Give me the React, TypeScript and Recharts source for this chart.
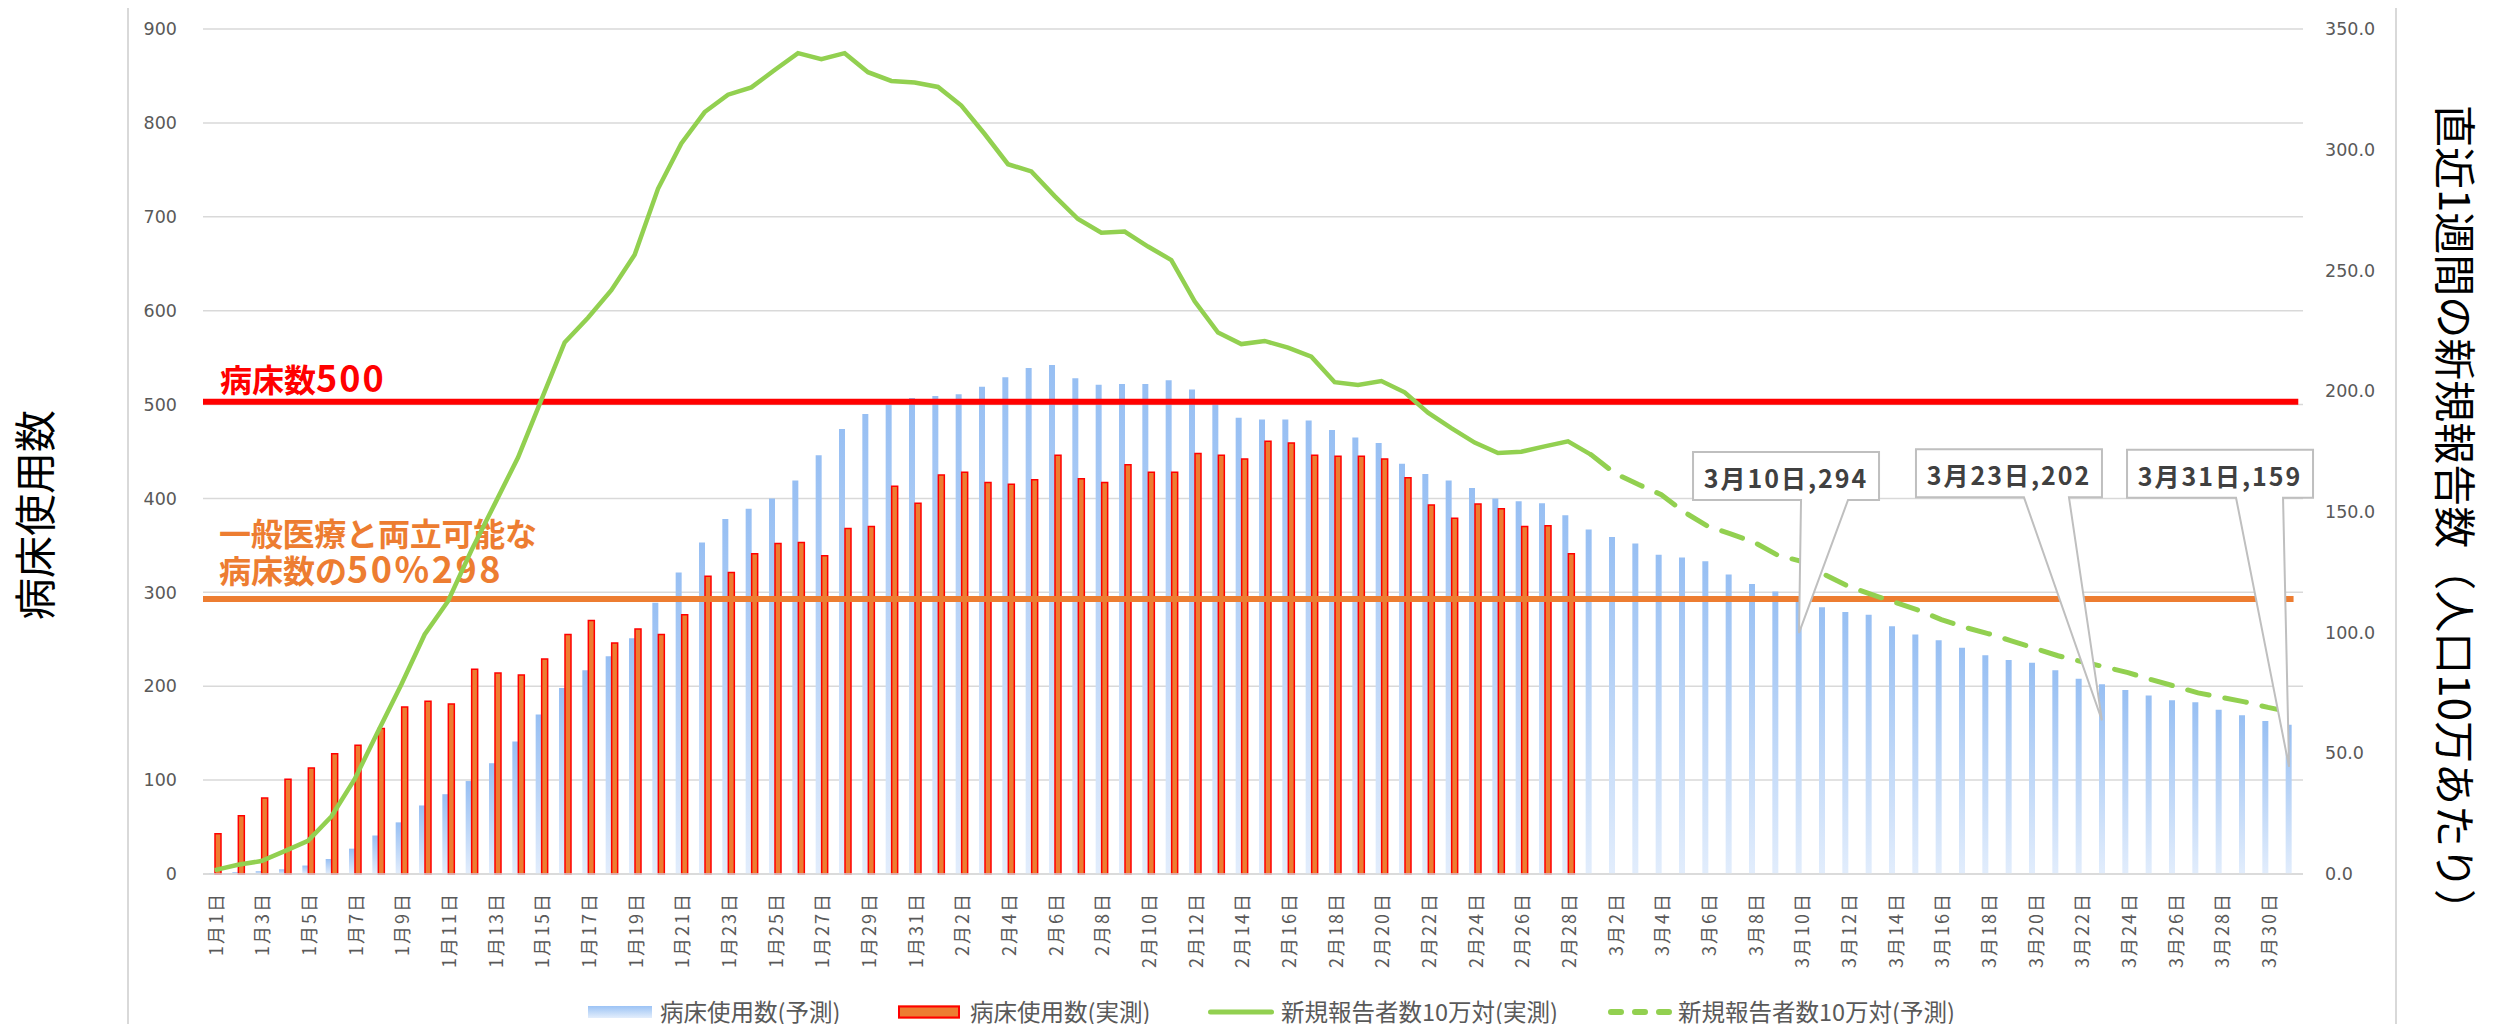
import React from "react";
import { Bar, CartesianGrid, ComposedChart, Line, ReferenceDot, ReferenceLine, XAxis, YAxis } from "recharts";

// 1/1 - 3/31, one category per day
const monthLengths = [31, 28, 31];
const dates: string[] = monthLengths.flatMap((n, m) => Array.from({ length: n }, (_, d) => `${m + 1}月${d + 1}日`));

// 病床使用数（予測） Jan 1 - Mar 31
const bedsForecast = [
  1, 2, 3, 5, 9, 16, 27, 41, 55, 73, 85, 99, 118, 141, 170, 198, 217, 232, 251, 289, 321, 353, 378, 389, 400, 419, 446, 474,
  490, 500, 507,
  509, 511, 519, 529, 539, 542, 528, 521, 522, 522, 526, 516, 500, 486, 484, 484, 483, 473, 465, 459, 437, 426, 419, 411, 400,
  397, 395, 382,
  367, 359, 352, 340, 337, 333, 319, 309, 301, 294, 284, 279, 276, 264, 255, 249, 241, 233, 228, 225, 217, 208, 202, 196, 190,
  185, 183, 175, 169, 163, 159,
];

// 病床使用数（実測） Jan 1 - Feb 28
const bedsActual = [
  43, 62, 81, 101, 113, 128, 137, 155, 178, 184, 181, 218, 214, 212, 229, 255, 270, 246, 261, 255, 276, 317, 321, 341, 352, 353,
  339, 368, 370, 413, 395,
  425, 428, 417, 415, 420, 446, 421, 417, 436, 428, 428, 448, 446, 442, 461, 459, 446, 445, 445, 442, 422, 393, 379, 394, 389,
  370, 371, 341,
];

// 新規報告者数10万対（実測） Jan 1 - Mar 1
const casesActual = [
  1.6, 3.8, 5.4, 9.5, 13.7, 23.8, 39.3, 59, 78.5, 99.2, 113, 134, 153.2, 172.5, 196.4, 220.2, 230.4, 241.8, 256.5, 283.8, 302.6,
  315.6, 322.8, 325.8, 333, 340, 337.5, 340, 332.1, 328.5, 327.8,
  326, 318.3, 306.5, 294, 291, 280.8, 271.3, 265.6, 266.1, 259.9, 254.3, 237.2, 224.3, 219.5, 220.8, 218, 214.3, 203.7, 202.6,
  204.2, 199.5, 191.1, 184.7, 178.7, 174.4, 174.9, 177.1, 179.2,
  173.6,
];

// 新規報告者数10万対（予測） Mar 1 - Mar 31
const casesForecast = [
  173.6, 166, 161.4, 157.1, 149.8, 144, 140.8, 137.3, 132, 129.5, 124, 119.2, 115.8, 112.6, 109.3, 105.4, 102.2, 99.6, 96.6, 93.5,
  90.4, 88, 85.8, 83.4, 80.5, 77.8, 75, 73.2, 71.3, 69, 67,
];

const forecastStart = dates.indexOf("3月1日");

const bedLimit = 503;
const bedLimitLabel = ["病床数", "500"];
const bedHalf = 293;
const bedHalfLabel = ["一般医療と両立可能な", "病床数の", "50%298"];

const callouts = [
  { date: "3月10日", value: 294 },
  { date: "3月23日", value: 202 },
  { date: "3月31日", value: 159 },
];
// box placement relative to the pointer tip
const calloutLayout = [
  { tipDx: -2.3, tipDy: 35, dx: -106, dy: -181, w0: 2, w1: 49 },
  { tipDx: -2.7, tipDy: 36, dx: -186, dy: -271, w0: -78, w1: -33 },
  { tipDx: -2.3, tipDy: 42, dx: -162, dy: -317, w0: -53, w1: -6 },
];

const leftTicks = [0, 100, 200, 300, 400, 500, 600, 700, 800, 900];
const rightTicks = [0, 50, 100, 150, 200, 250, 300, 350];

const rows = dates.map((date, i) => ({
  date,
  forecast: bedsForecast[i],
  actual: bedsActual[i] ?? null,
  casesActual: casesActual[i] ?? null,
  casesForecast: i >= forecastStart ? casesForecast[i - forecastStart] : null,
}));

const JP = "'Noto Sans CJK JP', 'Noto Sans', sans-serif";
const GRAY = "#595959";

function DateTick({ x, y, payload }: any) {
  return (
    <text
      x={x}
      y={y}
      transform={`rotate(-90 ${x} ${y})`}
      textAnchor="end"
      dominantBaseline="central"
      fill={GRAY}
      fontSize={18}
      letterSpacing={2}
      fontFamily={JP}
    >
      {payload.value}
    </text>
  );
}

function Callout({ cx, cy, text, box }: any) {
  const tipX = cx + box.tipDx;
  const tipY = cy + box.tipDy;
  const L = tipX + box.dx;
  const T = tipY + box.dy;
  const R = L + 186;
  const B = T + 48;
  const d = `M${L},${T} H${R} V${B} H${tipX + box.w1} L${tipX},${tipY} L${tipX + box.w0},${B} H${L} Z`;
  return (
    <g>
      <path d={d} fill="#ffffff" stroke="#BFBFBF" strokeWidth={2} />
      <text
        x={(L + R) / 2}
        y={(T + B) / 2 + 1}
        textAnchor="middle"
        dominantBaseline="central"
        fill="#404040"
        fontSize={25}
        fontWeight={700}
        letterSpacing={2}
        fontFamily={JP}
      >
        {text}
      </text>
    </g>
  );
}

const legendItems = [
  { label: "病床使用数(予測)", left: 580, textLeft: 652, kind: "blue" },
  { label: "病床使用数(実測)", left: 890, textLeft: 962, kind: "orange" },
  { label: "新規報告者数10万対(実測)", left: 1200, textLeft: 1273, kind: "line" },
  { label: "新規報告者数10万対(予測)", left: 1599, textLeft: 1670, kind: "dash" },
];

function Swatch({ kind }: { kind: string }) {
  if (kind === "blue") return <div style={{ width: 64, height: 12, background: "linear-gradient(#9CC3F5, #E3EEFC)" }} />;
  if (kind === "orange")
    return <div style={{ width: 62, height: 13, boxSizing: "border-box", background: "#ED7D31", border: "2px solid #FF0000" }} />;
  if (kind === "line") return <div style={{ width: 66, height: 5, borderRadius: 3, background: "#92D050" }} />;
  return (
    <svg width={66} height={8}>
      <line x1={4} y1={4} x2={62} y2={4} stroke="#92D050" strokeWidth={6} strokeLinecap="round" strokeDasharray="10 14" />
    </svg>
  );
}

export default function App() {
  return (
    <div style={{ position: "relative", width: 2480, height: 1016, background: "#fff" }}>
      <div
        style={{
          position: "absolute",
          left: 119,
          top: -3,
          width: 2270,
          height: 1027,
          boxSizing: "border-box",
          borderTop: "2px solid #D9D9D9",
          borderLeft: "2px solid #D9D9D9",
          borderRight: "2px solid #D9D9D9",
        }}
      />
      <div
        style={{
          position: "absolute",
          left: 25,
          top: 507,
          transform: "translate(-50%, -50%) rotate(-90deg)",
          whiteSpace: "nowrap",
          fontSize: 42,
          lineHeight: 1,
          fontFamily: JP,
          color: "#000",
        }}
      >
        病床使用数
      </div>
      <div
        style={{
          position: "absolute",
          left: 2449,
          top: 510,
          transform: "translate(-50%, -50%) rotate(90deg)",
          whiteSpace: "nowrap",
          fontSize: 42,
          lineHeight: 1,
          fontFamily: JP,
          color: "#000",
        }}
      >
        直近1週間の新規報告数（人口10万あたり）
      </div>
      <div style={{ position: "absolute", left: 0, top: 0 }}>
        <ComposedChart
          width={2480}
          height={1016}
          data={rows}
          margin={{ top: 21, right: 65, bottom: 40, left: 0 }}
          barGap={0}
        >
          <defs>
            <linearGradient id="bedForecast" x1="0" y1="0" x2="0" y2="1">
              <stop offset="0%" stopColor="#97BFF3" />
              <stop offset="100%" stopColor="#E2EDFC" />
            </linearGradient>
          </defs>
          <CartesianGrid yAxisId="left" vertical={false} stroke="#D9D9D9" strokeWidth={1.5} />
          <XAxis
            dataKey="date"
            interval={1}
            tick={<DateTick />}
            tickLine={false}
            tickMargin={12}
            axisLine={{ stroke: "#D9D9D9", strokeWidth: 1.5 }}
            height={110}
          />
          <XAxis xAxisId="span" type="number" domain={[0, 90]} allowDataOverflow hide />
          <YAxis
            yAxisId="left"
            domain={[0, 900]}
            ticks={leftTicks}
            interval={0}
            width={195}
            tickLine={false}
            axisLine={false}
            tickMargin={20}
            tick={{ fill: GRAY, fontSize: 17.5, fontFamily: "DejaVu Sans" }}
          />
          <YAxis
            yAxisId="right"
            orientation="right"
            domain={[0, 350]}
            ticks={rightTicks}
            interval={0}
            width={120}
            tickLine={false}
            axisLine={false}
            tickMargin={16}
            tickFormatter={(v: number) => v.toFixed(1)}
            tick={{ fill: GRAY, fontSize: 17.5, fontFamily: "DejaVu Sans" }}
          />
          <Bar yAxisId="left" dataKey="forecast" fill="url(#bedForecast)" barSize={6} isAnimationActive={false} />
          <ReferenceLine
            yAxisId="left"
            xAxisId="span"
            segment={[
              { x: 0, y: bedHalf },
              { x: 88.6, y: bedHalf },
            ]}
            stroke="#ED7D31"
            strokeWidth={6}
            ifOverflow="visible"
            label={(p: any) => (
              <g fill="#ED7D31" fontSize={32} fontWeight={700} fontFamily={JP}>
                <text x={p.viewBox.x + 16} y={p.viewBox.y - 53} textLength={318} lengthAdjust="spacing">
                  {bedHalfLabel[0]}
                </text>
                <text x={p.viewBox.x + 16} y={p.viewBox.y - 16}>
                  {bedHalfLabel[1]}
                  <tspan fontSize={36} letterSpacing={2.5}>
                    {bedHalfLabel[2]}
                  </tspan>
                </text>
              </g>
            )}
          />
          <ReferenceLine
            yAxisId="left"
            xAxisId="span"
            segment={[
              { x: 0, y: bedLimit },
              { x: 88.8, y: bedLimit },
            ]}
            stroke="#FF0000"
            strokeWidth={6}
            ifOverflow="visible"
            label={(p: any) => (
              <text x={p.viewBox.x + 17} y={p.viewBox.y - 10} fill="#FF0000" fontSize={32} fontWeight={700} fontFamily={JP}>
                {bedLimitLabel[0]}
                <tspan fontSize={36} letterSpacing={2}>
                  {bedLimitLabel[1]}
                </tspan>
              </text>
            )}
          />
          <Bar
            yAxisId="left"
            dataKey="actual"
            fill="#ED7D31"
            stroke="#FF0000"
            strokeWidth={1.5}
            barSize={6}
            isAnimationActive={false}
          />
          <Line
            yAxisId="right"
            type="linear"
            dataKey="casesActual"
            stroke="#92D050"
            strokeWidth={4.5}
            dot={false}
            activeDot={false}
            isAnimationActive={false}
          />
          <Line
            yAxisId="right"
            type="linear"
            dataKey="casesForecast"
            stroke="#92D050"
            strokeWidth={5}
            strokeDasharray="22 16"
            strokeLinecap="round"
            dot={false}
            activeDot={false}
            isAnimationActive={false}
          />
          {callouts.map((c, i) => (
            <ReferenceDot
              key={c.date}
              yAxisId="left"
              x={c.date}
              y={c.value}
              r={0}
              ifOverflow="visible"
              shape={(p: any) => <Callout cx={p.cx} cy={p.cy} text={`${c.date},${c.value}`} box={calloutLayout[i]} />}
            />
          ))}
        </ComposedChart>
      </div>
      {legendItems.map((item) => (
        <React.Fragment key={item.label}>
          <div style={{ position: "absolute", left: item.left, top: 1004, transform: "translateY(-50%)", display: "flex" }}>
            <Swatch kind={item.kind} />
          </div>
          <div
            style={{
              position: "absolute",
              left: item.textLeft,
              top: 1004,
              transform: "translateY(-50%)",
              whiteSpace: "nowrap",
              fontSize: 23.5,
              lineHeight: 1,
              fontFamily: JP,
              color: GRAY,
            }}
          >
            {item.label}
          </div>
        </React.Fragment>
      ))}
    </div>
  );
}
